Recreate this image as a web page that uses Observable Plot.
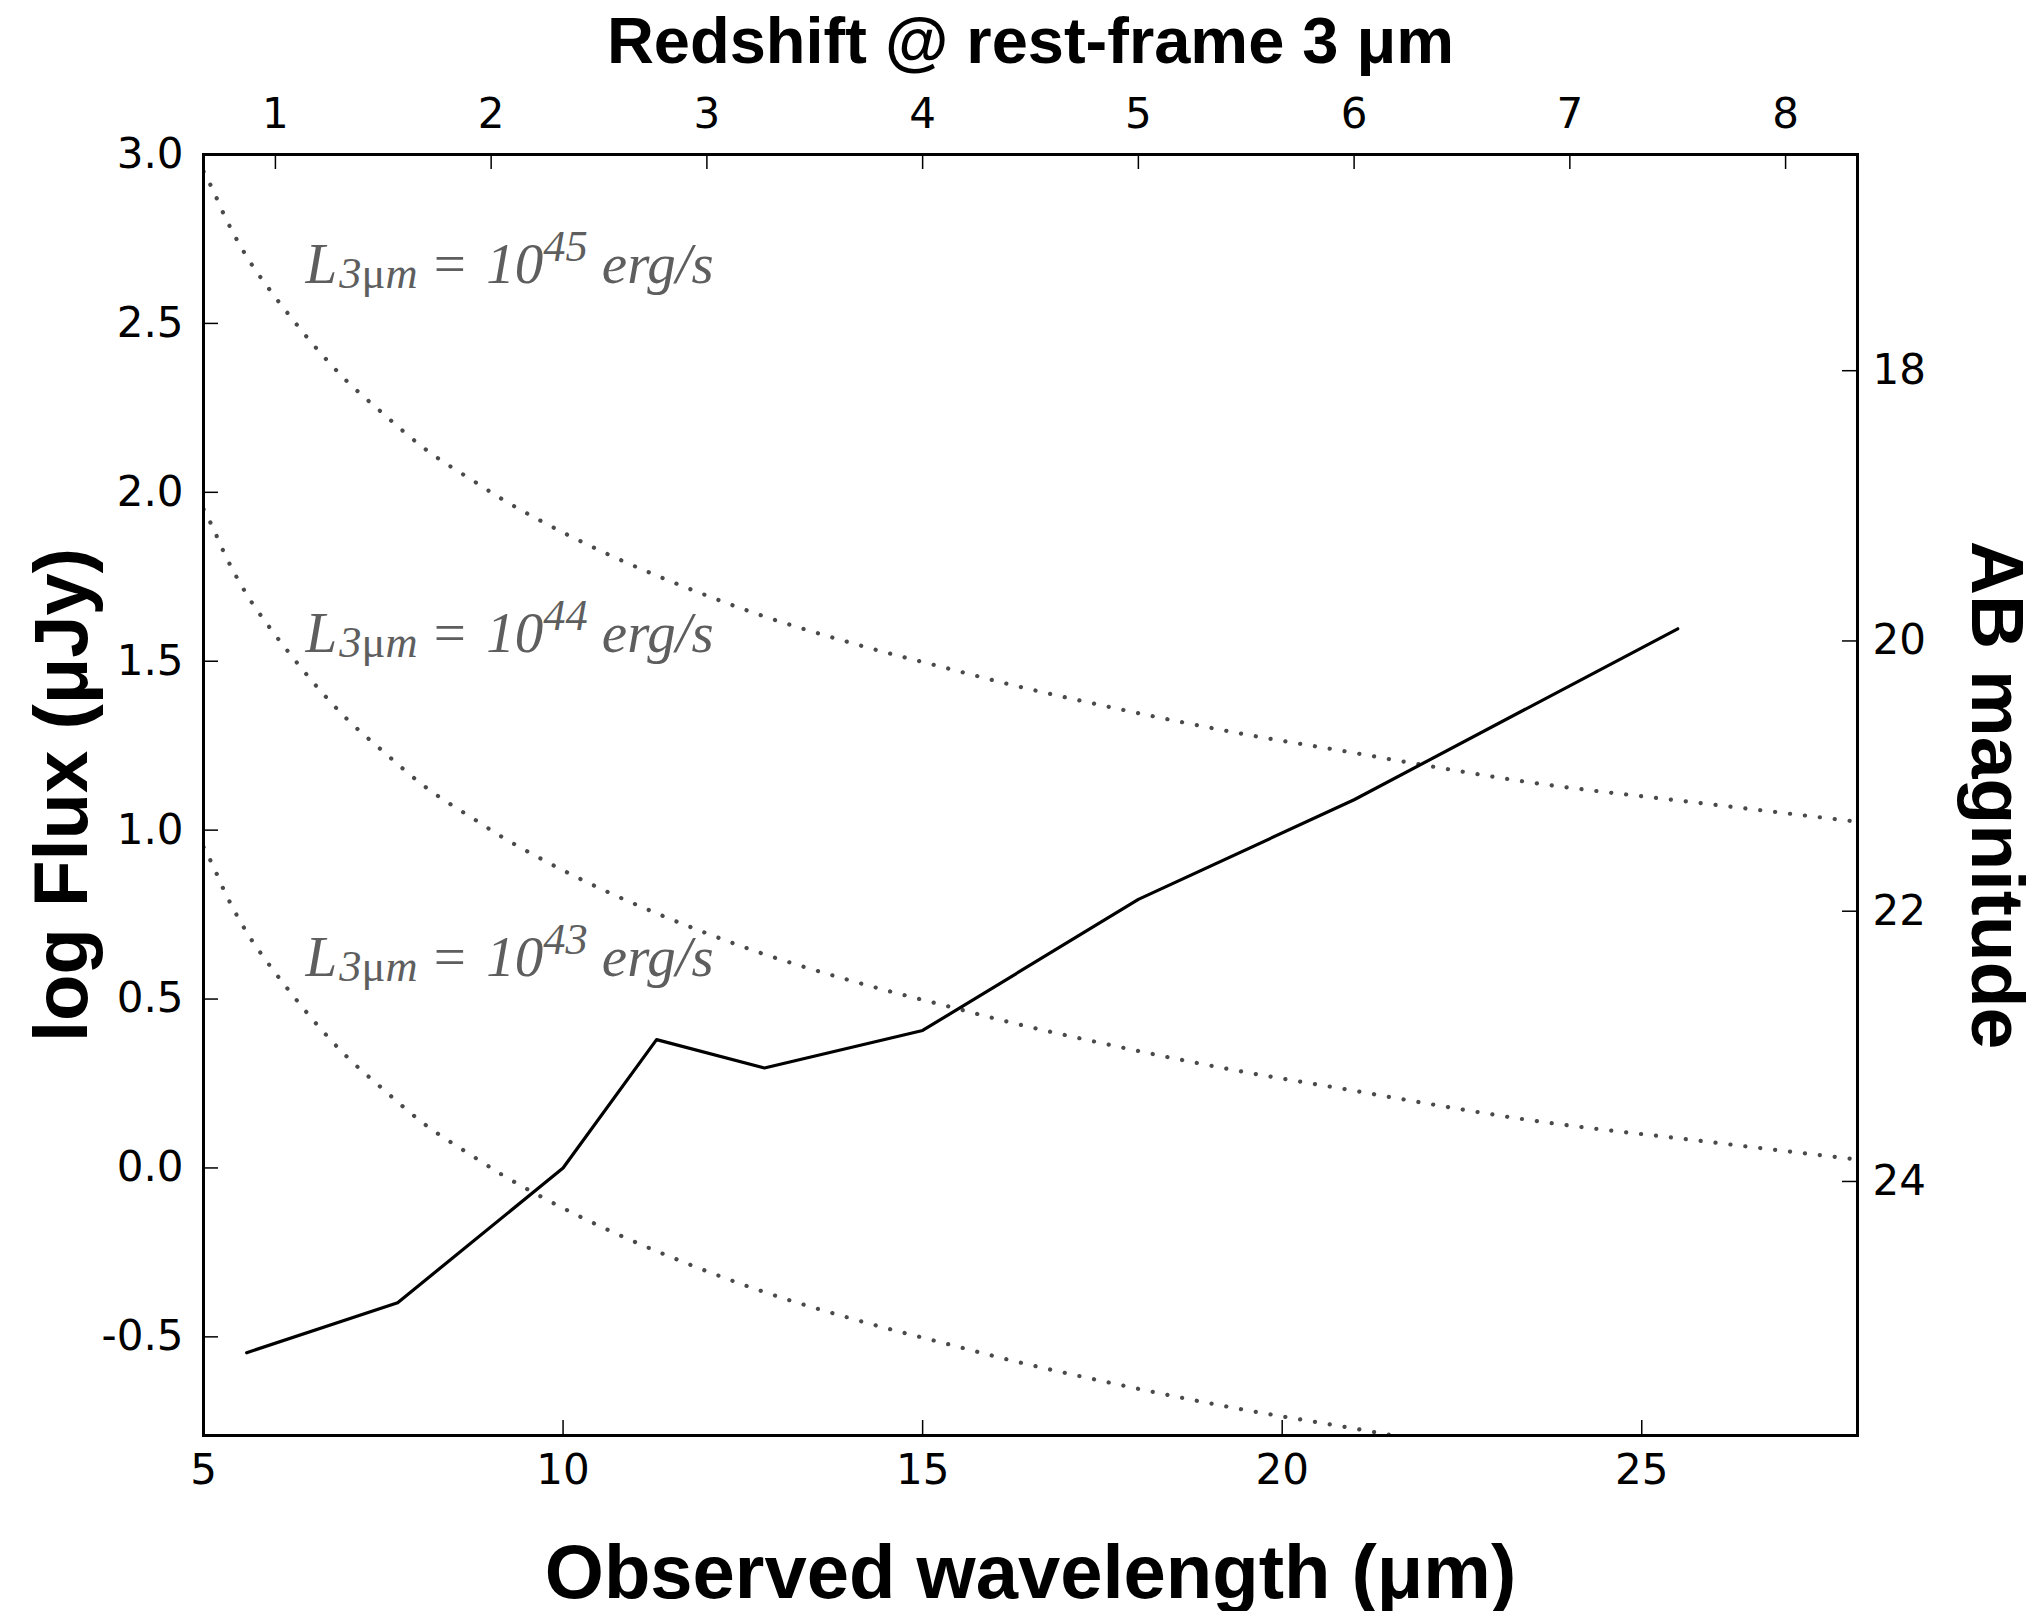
<!DOCTYPE html>
<html>
<head>
<meta charset="utf-8">
<script src="https://cdn.jsdelivr.net/npm/d3@7"></script>
<script src="https://cdn.jsdelivr.net/npm/@observablehq/plot@0.6"></script>
<style>
  html, body { margin: 0; padding: 0; background: #fff; }
  svg { display: block; }
</style>
</head>
<body>
<div id="chart"></div>
<script>
// Observed wavelength grid (µm) for the constant-luminosity tracks
const trackWavelength = [5.0, 5.12, 5.30, 5.58, 5.94, 6.19, 6.58, 6.99, 7.46, 8.09, 8.78, 9.15, 9.66,
  10.58, 11.32, 11.93, 12.67, 14.06, 15.49, 16.05, 17.48, 19.5, 20.91, 21.9, 23.33, 25.78, 28.0];

// log flux (µJy) of a source with L(3µm) = 1e45, 1e44, 1e43 erg/s
const track45 = [2.95, 2.90, 2.815, 2.705, 2.594, 2.525, 2.424, 2.33, 2.24, 2.127, 2.03, 1.98, 1.919,
  1.821, 1.752, 1.70, 1.642, 1.551, 1.471, 1.44, 1.37, 1.283, 1.232, 1.195, 1.145, 1.081, 1.025];
const track44 = [1.95, 1.90, 1.815, 1.705, 1.594, 1.525, 1.424, 1.33, 1.24, 1.127, 1.03, 0.98, 0.919,
  0.821, 0.752, 0.70, 0.642, 0.551, 0.471, 0.44, 0.37, 0.283, 0.232, 0.195, 0.145, 0.081, 0.025];
const track43 = [0.95, 0.90, 0.815, 0.705, 0.594, 0.525, 0.424, 0.33, 0.24, 0.127, 0.03, -0.02, -0.081,
  -0.179, -0.248, -0.30, -0.358, -0.449, -0.529, -0.56, -0.63, -0.717, -0.768, -0.805, -0.855];

// Detection limit per filter band
const bandWavelength = [5.6, 7.7, 10.0, 11.3, 12.8, 15.0, 18.0, 21.0, 25.5];
const bandLogFlux = [-0.547, -0.399, 0.0, 0.38, 0.296, 0.407, 0.795, 1.09, 1.596];

// Track labels: exponent of the luminosity and anchor position
const labelExponent = ["45", "44", "43"];
const labelWavelength = [6.42, 6.42, 6.42];
const labelLogFlux = [2.62, 1.527, 0.568];

// Axis ticks
const wavelengthTicks = [5, 10, 15, 20, 25];
const fluxTicks = [-0.5, 0.0, 0.5, 1.0, 1.5, 2.0, 2.5, 3.0];
const redshiftTicks = [1, 2, 3, 4, 5, 6, 7, 8];
const magnitudeTicks = [18, 20, 22, 24];

// rest-frame 3 µm lands at observed 3(1+z) µm; AB mag = 23.9 - 2.5 log F(µJy)
const zToWavelength = z => 3 * (1 + z);
const magToLogFlux = m => (23.9 - m) / 2.5;

const tracks = [
  ...trackWavelength.map((x, i) => ({x, y: track45[i], L: "45"})),
  ...trackWavelength.map((x, i) => ({x, y: track44[i], L: "44"})),
  ...track43.map((y, i) => ({x: trackWavelength[i], y, L: "43"}))
];
const limit = bandWavelength.map((x, i) => ({x, y: bandLogFlux[i]}));
const labels = labelExponent.map((e, i) => ({e, x: labelWavelength[i], y: labelLogFlux[i]}));

const width = 2039, height = 1611;
const mL = 203, mR = 182, mT = 154, mB = 176;
const innerW = width - mL - mR, innerH = height - mT - mB;
const tickLen = 15;
const tickFont = 42;

const chart = Plot.plot({
  width, height,
  marginLeft: mL, marginRight: mR, marginTop: mT, marginBottom: mB,
  style: {background: "#fff", fontFamily: "DejaVu Sans", fontSize: tickFont + "px", color: "#000", overflow: "visible"},
  x: {domain: [5, 28]},
  y: {domain: [-0.792, 3.0]},
  marks: [
    // constant-luminosity tracks
    Plot.line(tracks, {x: "x", y: "y", z: "L", curve: "monotone-x", clip: true,
      stroke: "#4a4a4a", strokeWidth: 4.2, strokeLinecap: "round", strokeDasharray: "0.1,14.9"}),
    // filter sensitivity curve
    Plot.line(limit, {x: "x", y: "y", stroke: "#000", strokeWidth: 3.2, strokeLinejoin: "round"}),
    // track labels (rich text added after rendering)
    Plot.text(labels, {x: "x", y: "y", text: "e", textAnchor: "start", lineAnchor: "bottom",
      fontFamily: "Liberation Serif", fontStyle: "italic", fontSize: 57, fill: "#5e5e5e"}),

    // inward ticks
    Plot.tickX(wavelengthTicks, {x: d => d, insetTop: innerH - tickLen, stroke: "#000", strokeWidth: 1.5}),
    Plot.tickX(redshiftTicks, {x: zToWavelength, insetBottom: innerH - tickLen, stroke: "#000", strokeWidth: 1.5}),
    Plot.tickY(fluxTicks, {y: d => d, insetRight: innerW - tickLen, stroke: "#000", strokeWidth: 1.5}),
    Plot.tickY(magnitudeTicks, {y: magToLogFlux, insetLeft: innerW - tickLen, stroke: "#000", strokeWidth: 1.5}),

    // tick labels
    Plot.axisX(wavelengthTicks, {anchor: "bottom", tickSize: 0, tickPadding: 19, fontSize: tickFont,
      tickFormat: d => String(d), label: null}),
    Plot.axisX(redshiftTicks.map(zToWavelength), {anchor: "top", tickSize: 0, tickPadding: 27, fontSize: tickFont,
      tickFormat: d => String(Math.round(d / 3 - 1)), label: null}),
    Plot.axisY(fluxTicks, {anchor: "left", tickSize: 0, tickPadding: 20, fontSize: tickFont,
      tickFormat: d => d.toFixed(1), label: null}),
    Plot.axisY(magnitudeTicks.map(magToLogFlux), {anchor: "right", tickSize: 0, tickPadding: 15, fontSize: tickFont,
      tickFormat: d => String(Math.round(23.9 - 2.5 * d)), label: null}),

    // axis titles
    Plot.text(["Redshift @ rest-frame 3 μm"], {text: d => d, frameAnchor: "top", dy: -92, lineAnchor: "bottom",
      textAnchor: "middle", fontFamily: "Liberation Sans", fontWeight: "bold", fontSize: 65, fill: "#000"}),
    Plot.text(["Observed wavelength (μm)"], {text: d => d, frameAnchor: "bottom", dy: 162, lineAnchor: "bottom",
      textAnchor: "middle", fontFamily: "Liberation Sans", fontWeight: "bold", fontSize: 76, fill: "#000"}),
    Plot.text(["log Flux (μJy)"], {text: d => d, frameAnchor: "left", dx: -117, rotate: -90, lineAnchor: "bottom",
      textAnchor: "middle", fontFamily: "Liberation Sans", fontWeight: "bold", fontSize: 76, fill: "#000"}),
    Plot.text(["AB magnitude"], {text: d => d, frameAnchor: "right", dx: 114, rotate: 90, lineAnchor: "bottom",
      textAnchor: "middle", fontFamily: "Liberation Sans", fontWeight: "bold", fontSize: 75, fill: "#000"}),

    Plot.frame({stroke: "#000", strokeWidth: 3})
  ]
});

// Typeset the track labels as L_{3µm} = 10^{exp} erg/s
d3.select(chart).selectAll("text")
  .filter(function () { return labelExponent.includes(this.textContent); })
  .each(function () {
    const exp = this.textContent;
    const t = d3.select(this).text(null);
    t.append("tspan").attr("font-style", "italic").text("L");
    t.append("tspan").attr("font-size", "0.78em").attr("dy", "5px").attr("dx", "2px").attr("font-style", "italic").text("3");
    t.append("tspan").attr("font-size", "0.78em").attr("font-style", "normal").text("μ");
    t.append("tspan").attr("font-size", "0.78em").attr("font-style", "italic").text("m");
    t.append("tspan").attr("dy", "-5px").attr("font-style", "normal").attr("dx", "2px").text(" = ");
    t.append("tspan").attr("font-style", "italic").attr("dx", "6px").text("10");
    t.append("tspan").attr("font-size", "0.78em").attr("dy", "-22px").attr("font-style", "italic").text(exp);
    t.append("tspan").attr("dy", "22px").attr("font-style", "italic").text(" erg/s");
  });

document.getElementById("chart").appendChild(chart);
</script>
</body>
</html>
